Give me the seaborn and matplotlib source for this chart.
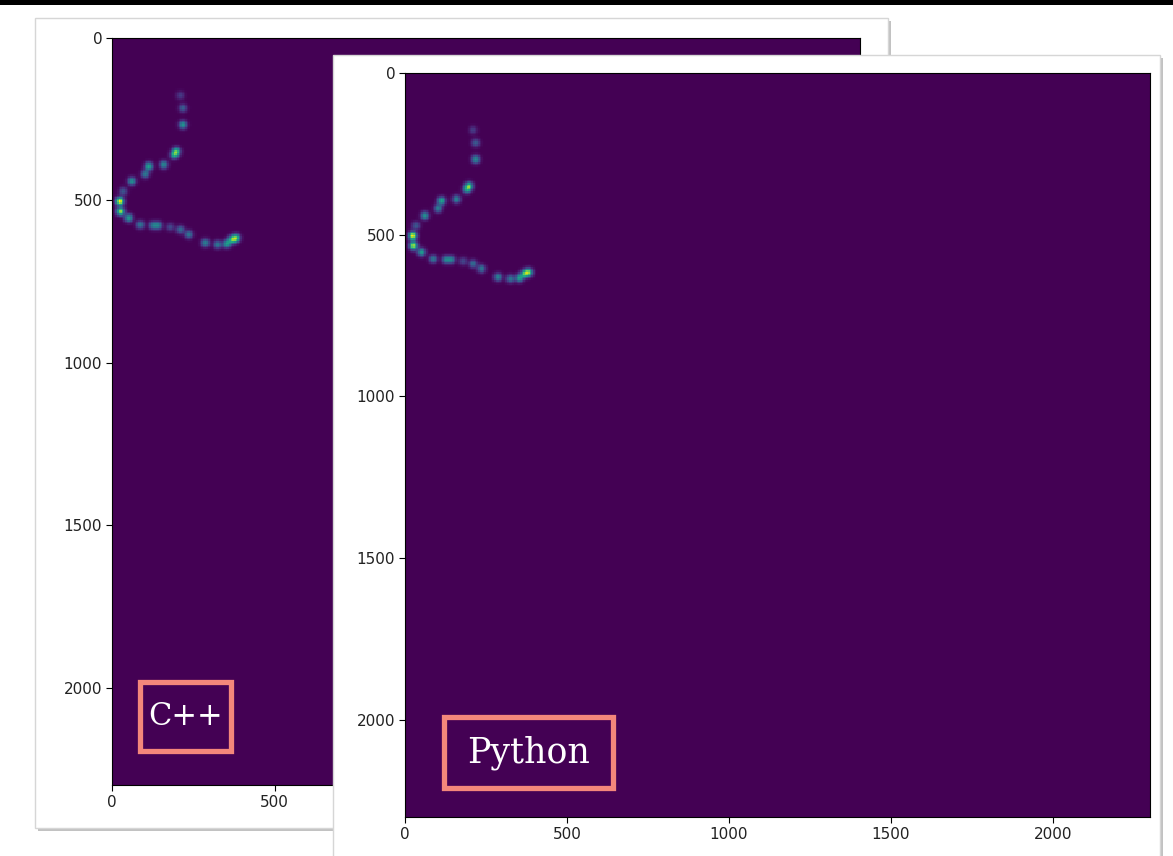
import matplotlib
matplotlib.use("Agg")
import matplotlib.pyplot as plt
from matplotlib.patches import Rectangle
import numpy as np
import seaborn as sns

# image size in pixels (both runs produce a square frame)
img_size = 2300
cell = 5

# detected spots: column, row, intensity
spot_x = [210, 218, 218, 198, 191, 159, 113, 102, 61, 34, 24, 26, 51, 87,
          126, 143, 179, 210, 236, 287, 325, 353, 369, 382]
spot_y = [177, 216, 267, 349, 360, 390, 395, 419, 441, 472, 503, 534, 554, 575,
          577, 577, 582, 590, 605, 631, 636, 634, 621, 616]
spot_val = [0.18, 0.3, 0.5, 0.65, 0.5, 0.45, 0.6, 0.42, 0.5, 0.28, 1.0, 0.85,
            0.55, 0.4, 0.4, 0.4, 0.22, 0.35, 0.4, 0.45, 0.4, 0.55, 0.6, 0.7]

tick_vals = [0, 500, 1000, 1500, 2000]
labels = ["C++", "Python"]

# build the frame from the spots
n = img_size // cell
centers = (np.arange(n) + 0.5) * cell
X, Y = np.meshgrid(centers, centers)
frame = np.zeros((n, n))
sigma = 8.5
for x, y, v in zip(spot_x, spot_y, spot_val):
    frame += v * np.exp(-((X - x) ** 2 + (Y - y) ** 2) / (2 * sigma ** 2))

W, H = 1173, 856
fig = plt.figure(figsize=(W / 100, H / 100), dpi=100)
fig.patch.set_facecolor("white")


def rect(x0, y0, x1, y1):
    return [x0 / W, 1 - y1 / H, (x1 - x0) / W, (y1 - y0) / H]


def card(x0, y0, x1, y1, z):
    # shadow then white card
    r = rect(x0 + 3, y0 + 3, x1 + 3, y1 + 3)
    fig.patches.append(Rectangle((r[0], r[1]), r[2], r[3], transform=fig.transFigure,
                                 facecolor="#9a9a9a", edgecolor="none", alpha=0.6, zorder=z))
    r = rect(x0, y0, x1, y1)
    fig.patches.append(Rectangle((r[0], r[1]), r[2], r[3], transform=fig.transFigure,
                                 facecolor="white", edgecolor="#d6d6d6", lw=1, zorder=z + 0.01))


def panel(box, z, label, lbox, fs):
    ax = fig.add_axes(rect(*box))
    ax.set_zorder(z)
    sns.heatmap(frame, ax=ax, cmap="viridis", vmin=0, vmax=1, cbar=False,
                xticklabels=False, yticklabels=False, rasterized=True)
    for s in ax.spines.values():
        s.set_visible(True)
        s.set_color("black")
        s.set_linewidth(0.8)
    pos = [t / cell for t in tick_vals]
    ax.set_xticks(pos)
    ax.set_xticklabels([str(t) for t in tick_vals], fontsize=11, color="#222222")
    ax.set_yticks(pos)
    ax.set_yticklabels([str(t) for t in tick_vals], fontsize=11, rotation=0, color="#222222")
    ax.tick_params(length=4, width=0.8, direction="out", color="black",
                   left=True, bottom=True, pad=3)
    ax.set_xlim(0, n)
    ax.set_ylim(n, 0)
    # label box
    r = rect(*lbox)
    fig.patches.append(Rectangle((r[0], r[1]), r[2], r[3], transform=fig.transFigure,
                                 facecolor="none", edgecolor="#f4877b", lw=3.8, zorder=z + 0.05))
    cx = (lbox[0] + lbox[2]) / 2 / W
    cy = 1 - (lbox[1] + lbox[3]) / 2 / H
    fig.text(cx, cy, label, color="white", fontsize=fs, family="DejaVu Serif",
             ha="center", va="center", zorder=z + 0.06)
    return ax


card(35, 18, 888, 828, 0.1)
panel((112, 38, 860, 785), 0.2, labels[0], (140, 682, 231, 751), 22)
card(333, 55, 1160, 870, 0.3)
panel((405, 73, 1150, 817), 0.4, labels[1], (444, 717, 613, 788), 25)

# black strip along the top edge
fig.patches.append(Rectangle((0, 1 - 5 / H), 1, 5 / H, transform=fig.transFigure,
                             facecolor="black", edgecolor="none", zorder=1))

fig.savefig("out.png", dpi=100)
